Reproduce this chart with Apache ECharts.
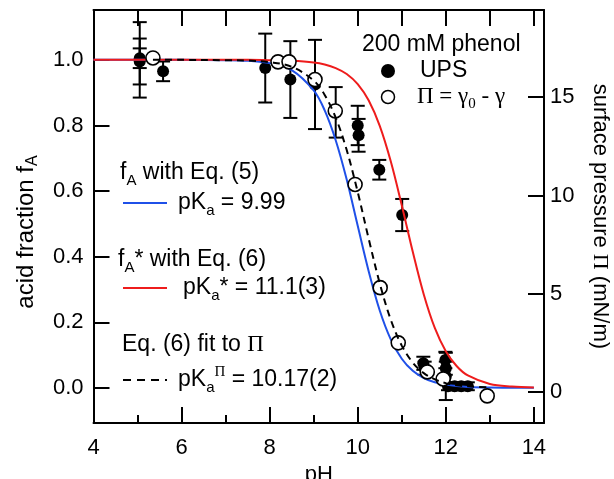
<!DOCTYPE html>
<html><head><meta charset="utf-8">
<script src="https://cdn.jsdelivr.net/npm/echarts@6/dist/echarts.min.js"></script>
<style>html,body{margin:0;padding:0;background:#fff}#c{width:614px;height:479px}</style>
</head><body><div id="c"></div>
<script>
// ---- data ----
const curvePH = [4,5,6,7,7.5,8,8.5,9,9.25,9.5,9.75,10,10.25,10.5,10.75,11,11.25,11.5,11.75,12,12.25,12.5,13,13.5,14];
const blueFA  = [1.000,1.000,1.000,0.999,0.997,0.990,0.969,0.907,0.846,0.755,0.635,0.494,0.355,0.236,0.148,0.089,0.052,0.030,0.017,0.010,0.0055,0.003,0.001,0.0003,0.0001];
const redFA   = [1.000,1.000,1.000,1.000,1.000,0.999,0.997,0.992,0.986,0.975,0.957,0.926,0.876,0.799,0.691,0.557,0.415,0.285,0.183,0.112,0.066,0.038,0.012,0.004,0.001];
const dashPH  = [5.35,6,7,7.5,8,8.5,9,9.25,9.5,9.75,10,10.25,10.5,10.75,11,11.25,11.5,11.75,12,12.25,12.5,13];
const dashFA  = [1.000,1.000,0.999,0.998,0.993,0.979,0.937,0.893,0.824,0.725,0.597,0.454,0.319,0.208,0.129,0.077,0.045,0.026,0.0146,0.008,0.0047,0.0015];

const upsPH  = [5.05,5.05,5.05,5.58,7.9,8.47,9.03,9.5,10.0,10.02,10.49,11.01,11.49,11.52,11.99,12.0,12.0,12.05,12.2,12.35,12.5];
const upsFA  = [1.00,0.995,1.005,0.965,0.975,0.94,0.925,0.84,0.80,0.77,0.665,0.527,0.075,0.06,0.085,0.06,0.035,0.005,0.005,0.005,0.005];
const upsErr = [0.115,0.07,0.03,0.03,0.105,0.117,0.136,0.077,0.06,0.05,0.03,0.049,0.02,0.02,0.025,0.02,0.072,0.012,0.012,0.012,0.012];

const piPH  = [5.35,8.19,8.44,9.03,9.49,9.94,10.51,10.92,11.58,11.94,12.94];
const piVal = [17.0,16.8,16.8,15.9,14.3,10.56,5.31,2.5,1.02,0.66,-0.2];

const xTickLabels = [4,6,8,10,12,14];
const leftTickLabels = [0,0.2,0.4,0.6,0.8,1.0];
const rightTickLabels = [0,5,10,15];

// ---- styles ----
const SANS = 'Liberation Sans, Arial, sans-serif';
const SERIF = 'Liberation Serif, Times New Roman, serif';
const FS = 22, FA = 23;
const BLUE = '#1f50e8', RED = '#ee1c1c';
const lineStyleAx = {color:'#000', width:2};
const tickStyle = {color:'#000', width:2};
const lbl = {color:'#000', fontSize:FS, fontFamily:SANS};

const chart = echarts.init(document.getElementById('c'), null, {renderer:'canvas'});

const upsData = upsPH.map((p,i)=>[p, upsFA[i], upsErr[i]]);
const piData = piPH.map((p,i)=>[p, piVal[i]]);

function near(v, list){ return list.some(t => Math.abs(t - v) < 1e-6); }

function makeRich(fs, sfs){
  sfs = sfs || 15;
  return {
    a:{fontSize:fs, fontFamily:SANS, color:'#000', lineHeight:30, verticalAlign:'middle'},
    s:{fontSize:sfs, fontFamily:SANS, color:'#000', lineHeight:sfs, verticalAlign:'bottom'},
    u:{fontSize:sfs, fontFamily:SANS, color:'#000', lineHeight:sfs, verticalAlign:'top'},
    g:{fontSize:fs, fontFamily:SERIF, color:'#000', lineHeight:30, verticalAlign:'middle'},
    gs:{fontSize:sfs, fontFamily:SERIF, color:'#000', lineHeight:sfs, verticalAlign:'bottom'},
    gu:{fontSize:sfs, fontFamily:SERIF, color:'#000', lineHeight:sfs, verticalAlign:'top'}
  };
}
const axRich = makeRich(FS), annRich = makeRich(FA), ltRich = makeRich(24, 16);
function txt(x, y, text){
  return {type:'text', x:x, y:y, z:100, style:{text:text, rich:annRich, fill:'#000', font: FA+'px '+SANS, verticalAlign:'middle', align:'left'}};
}

const option = {
  animation:false,
  backgroundColor:'#fff',
  grid:{left:93.5, right:70, top:10, bottom:56, containLabel:false, outerBoundsMode:'none'},
  xAxis:[
    {type:'value', position:'bottom', min:4, max:14.23, interval:2,
     axisLine:{show:true, onZero:false, lineStyle:lineStyleAx},
     axisTick:{show:true, inside:true, length:16, lineStyle:tickStyle},
     axisLabel:{...lbl, margin:14, showMaxLabel:false, formatter:v => near(v, xTickLabels) ? String(v) : ''},
     splitLine:{show:false},
     name:'pH', nameLocation:'middle', nameGap:36, nameTextStyle:{...lbl}},
    {type:'value', position:'bottom', min:4, max:14.23, interval:1,
     axisLine:{show:false, onZero:false},
     axisTick:{show:true, inside:true, length:8, lineStyle:tickStyle},
     axisLabel:{show:false}, splitLine:{show:false}},
    {type:'value', position:'top', min:4, max:14.23, interval:1,
     axisLine:{show:true, onZero:false, lineStyle:lineStyleAx},
     axisTick:{show:true, inside:true, length:16, lineStyle:tickStyle},
     axisLabel:{show:false}, splitLine:{show:false}}
  ],
  yAxis:[
    {type:'value', position:'left', min:-0.107, max:1.152, splitNumber:6,
     axisLine:{show:true, onZero:false, lineStyle:lineStyleAx},
     axisTick:{show:true, inside:true, length:16, lineStyle:tickStyle},
     axisLabel:{...lbl, margin:10, showMinLabel:false, showMaxLabel:false,
       formatter:v => near(v, leftTickLabels) ? v.toFixed(1) : ''},
     splitLine:{show:false}},
    {type:'value', position:'right', min:-1.58, max:19.44, splitNumber:4,
     axisLine:{show:true, onZero:false, lineStyle:lineStyleAx},
     axisTick:{show:true, inside:true, length:16, lineStyle:tickStyle},
     axisLabel:{...lbl, margin:6, showMinLabel:false, showMaxLabel:false,
       formatter:v => near(v, rightTickLabels) ? String(v) : ''},
     splitLine:{show:false},
     name:'{a|surface pressure }{g|Π}{a| (mN/m)}', nameLocation:'middle', nameGap:41, nameRotate:-90,
     nameTextStyle:{...lbl, rich:axRich}}
  ],
  series:[
    {type:'custom', xAxisIndex:0, yAxisIndex:0, z:1, data:upsData,
     encode:{x:0, y:1},
     renderItem:function(params, api){
       const x = api.value(0), y = api.value(1), e = api.value(2);
       const t = api.coord([x, y + e]), b = api.coord([x, y - e]);
       const w = 7, st = {stroke:'#000', lineWidth:2};
       return {type:'group', children:[
         {type:'line', shape:{x1:t[0], y1:t[1], x2:b[0], y2:b[1]}, style:st},
         {type:'line', shape:{x1:t[0]-w, y1:t[1], x2:t[0]+w, y2:t[1]}, style:st},
         {type:'line', shape:{x1:b[0]-w, y1:b[1], x2:b[0]+w, y2:b[1]}, style:st}
       ]};
     }},
    {type:'scatter', xAxisIndex:0, yAxisIndex:0, z:2, data:upsPH.map((p,i)=>[p, upsFA[i]]),
     symbol:'circle', symbolSize:12, itemStyle:{color:'#000', opacity:1}},
    {type:'line', xAxisIndex:0, yAxisIndex:0, z:3, data:curvePH.map((p,i)=>[p, blueFA[i]]),
     showSymbol:false, smooth:0.35, lineStyle:{color:BLUE, width:2}},
    {type:'line', xAxisIndex:0, yAxisIndex:0, z:3, data:curvePH.map((p,i)=>[p, redFA[i]]),
     showSymbol:false, smooth:0.35, lineStyle:{color:RED, width:2}},
    {type:'scatter', xAxisIndex:0, yAxisIndex:1, z:4, data:piData,
     symbol:'circle', symbolSize:14, itemStyle:{color:'#fff', borderColor:'#000', borderWidth:1.6, opacity:1}},
    {type:'line', xAxisIndex:0, yAxisIndex:0, z:5, data:dashPH.map((p,i)=>[p, dashFA[i]]),
     showSymbol:false, smooth:0.35, lineStyle:{color:'#000', width:2, type:[7,5]}}
  ],
  graphic:[
    {type:'text', x:26, y:232, rotation:Math.PI/2, z:100,
     style:{text:'{a|acid fraction f}{s|A}', rich:ltRich, fill:'#000', font:'24px '+SANS, align:'center', verticalAlign:'middle'}},
    txt(362, 45, '{a|200 mM phenol}'),
    {type:'circle', z:100, shape:{cx:388, cy:71, r:7}, style:{fill:'#000'}},
    txt(420, 71, '{a|UPS}'),
    {type:'circle', z:100, shape:{cx:388, cy:97, r:6.5}, style:{fill:'#fff', stroke:'#000', lineWidth:1.5}},
    txt(417, 97, '{g|Π = γ}{gs|0}{g| - γ}'),
    txt(120, 173, '{a|f}{s|A}{a| with Eq. (5)}'),
    {type:'line', z:100, shape:{x1:123, y1:203, x2:167, y2:203}, style:{stroke:BLUE, lineWidth:2}},
    txt(178, 203, '{a|pK}{s|a}{a| = 9.99}'),
    txt(118, 260, '{a|f}{s|A}{a|* with Eq. (6)}'),
    {type:'line', z:100, shape:{x1:123, y1:288, x2:167, y2:288}, style:{stroke:RED, lineWidth:2}},
    txt(183, 288, '{a|pK}{s|a}{a|* = 11.1(3)}'),
    txt(122, 345, '{a|Eq. (6) fit to }{g|Π}'),
    {type:'line', z:100, shape:{x1:123, y1:380, x2:167, y2:380}, style:{stroke:'#000', lineWidth:2, lineDash:[8,6]}},
    txt(178, 380, '{a|pK}{s|a}{gu|Π}{a| = 10.17(2)}')
  ]
};
chart.setOption(option);
</script>
</body></html>
